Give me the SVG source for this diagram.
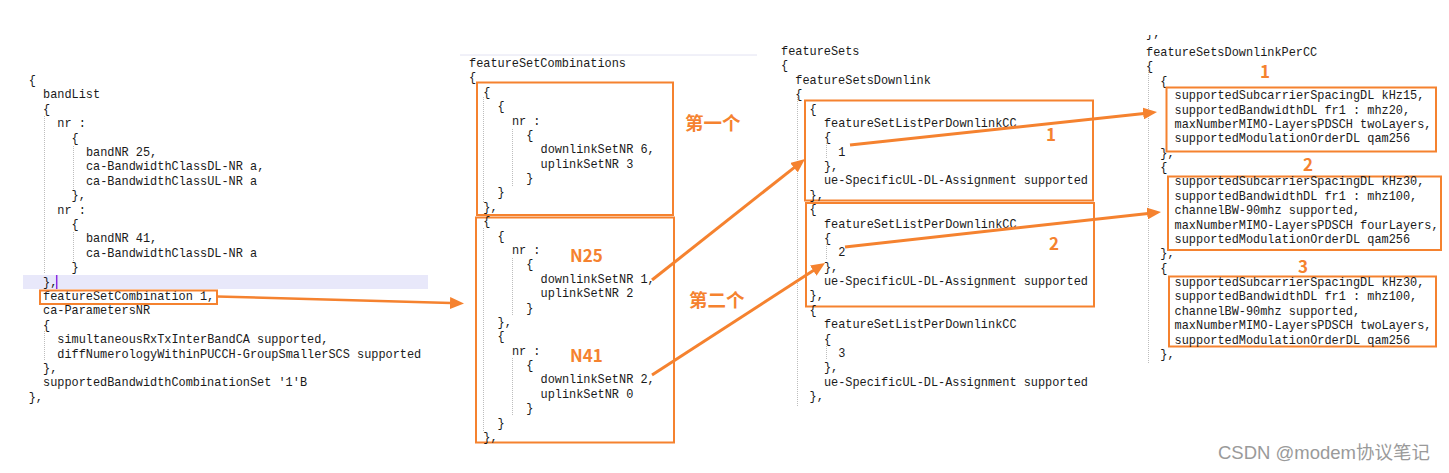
<svg xmlns="http://www.w3.org/2000/svg" width="1449" height="473" viewBox="0 0 1449 473">
<style>
.c{font-family:"Liberation Mono","Courier New",monospace;font-size:11.9px;fill:#1a1a1a;white-space:pre}
.box{fill:none;stroke:#f5822f;stroke-width:2}
.lbl{font-family:"Noto Sans CJK SC","Noto Sans",sans-serif;font-weight:bold;fill:#f5822f}
.guide{stroke:#bdbdbd;stroke-width:1;stroke-dasharray:1 1;fill:none}
.arrow{stroke:#f5822f;stroke-width:3;fill:none;marker-end:url(#ah)}
.wm{font-family:"Liberation Sans","Noto Sans CJK SC",sans-serif;font-size:18.5px;fill:#9a9a9a}
</style>
<defs>
<marker id="ah" markerUnits="userSpaceOnUse" markerWidth="14" markerHeight="12" refX="1" refY="6" orient="auto">
<path d="M0,0 L14,6 L0,12 z" fill="#f5822f"/>
</marker>
<clipPath id="topclip"><rect x="1140" y="35" width="40" height="10"/></clipPath>
</defs>
<rect width="1449" height="473" fill="#ffffff"/>

<g id="panel-bandlist">
<rect x="23" y="275" width="405" height="14" fill="#e8e8fa"/>
<line x1="56.7" y1="275" x2="56.7" y2="289" stroke="#8a2be2" stroke-width="1.5"/>
<path class="guide" d="M44.5,116V273 M73.5,146V191 M73.5,232V261 M44.5,331V361"/>
<text class="c" x="28.7" y="84">{</text>
<text class="c" x="43" y="98.4">bandList</text>
<text class="c" x="43" y="112.8">{</text>
<text class="c" x="57.3" y="127.2">nr :</text>
<text class="c" x="71.6" y="141.6">{</text>
<text class="c" x="85.9" y="156">bandNR 25,</text>
<text class="c" x="85.9" y="170.4">ca-BandwidthClassDL-NR a,</text>
<text class="c" x="85.9" y="184.8">ca-BandwidthClassUL-NR a</text>
<text class="c" x="71.6" y="199.2">},</text>
<text class="c" x="57.3" y="213.6">nr :</text>
<text class="c" x="71.6" y="228">{</text>
<text class="c" x="85.9" y="242.4">bandNR 41,</text>
<text class="c" x="85.9" y="256.8">ca-BandwidthClassDL-NR a</text>
<text class="c" x="71.6" y="271.2">}</text>
<text class="c" x="43" y="285.6">},</text>
<text class="c" x="43" y="300">featureSetCombination 1,</text>
<text class="c" x="43" y="314.4">ca-ParametersNR</text>
<text class="c" x="43" y="328.8">{</text>
<text class="c" x="57.3" y="343.2">simultaneousRxTxInterBandCA supported,</text>
<text class="c" x="57.3" y="357.6">diffNumerologyWithinPUCCH-GroupSmallerSCS supported</text>
<text class="c" x="43" y="372">},</text>
<text class="c" x="43" y="386.4">supportedBandwidthCombinationSet '1'B</text>
<text class="c" x="28.7" y="400.8">},</text>
<rect id="fsc-box" class="box" x="40" y="290.5" width="177" height="13.5"/>
</g>

<g id="panel-featureSetCombinations">
<line x1="460" y1="55" x2="757" y2="55" stroke="#e2e2f2" stroke-width="1"/>
<path class="guide" d="M483.5,97V203 M512.5,129V186 M483.5,228V432 M512.5,258V315 M512.5,358V416"/>
<text class="c" x="469" y="67">featureSetCombinations</text>
<text class="c" x="469" y="81.4">{</text>
<g id="combo-1">
<rect class="box" x="477" y="82.5" width="196" height="132.5"/>
<text class="c" x="483.3" y="95.8">{</text>
<text class="c" x="497.6" y="110.1">{</text>
<text class="c" x="511.9" y="124.5">nr :</text>
<text class="c" x="526.2" y="138.9">{</text>
<text class="c" x="540.5" y="153.3">downlinkSetNR 6,</text>
<text class="c" x="540.5" y="167.7">uplinkSetNR 3</text>
<text class="c" x="526.2" y="182.1">}</text>
<text class="c" x="497.6" y="196.4">}</text>
<text class="c" x="483.3" y="210.8">},</text>
<text class="lbl" x="685" y="130" font-size="18.5">第一个</text>
</g>
<g id="combo-2">
<rect class="box" x="476" y="217.5" width="198" height="225"/>
<text class="c" x="483.3" y="225.2">{</text>
<text class="c" x="497.6" y="239.6">{</text>
<text class="c" x="511.9" y="253.9">nr :</text>
<text class="c" x="526.2" y="268.3">{</text>
<text class="c" x="540.5" y="282.7">downlinkSetNR 1,</text>
<text class="c" x="540.5" y="297.1">uplinkSetNR 2</text>
<text class="c" x="526.2" y="311.5">}</text>
<text class="c" x="497.6" y="325.8">},</text>
<text class="c" x="497.6" y="340.2">{</text>
<text class="c" x="511.9" y="354.6">nr :</text>
<text class="c" x="526.2" y="369">{</text>
<text class="c" x="540.5" y="383.4">downlinkSetNR 2,</text>
<text class="c" x="540.5" y="397.7">uplinkSetNR 0</text>
<text class="c" x="526.2" y="412.1">}</text>
<text class="c" x="497.6" y="426.5">}</text>
<text class="c" x="483.3" y="440.9">},</text>
<text class="lbl" x="570" y="262" font-size="17" font-family="'Noto Sans',sans-serif">N25</text>
<text class="lbl" x="570" y="362" font-size="17" font-family="'Noto Sans',sans-serif">N41</text>
<text class="lbl" x="689" y="307" font-size="18.5">第二个</text>
</g>
</g>

<g id="panel-featureSets">
<path class="guide" d="M797.5,97V407 M826.5,143V158 M826.5,244V259 M826.5,344V360"/>
<text class="c" x="781" y="55">featureSets</text>
<text class="c" x="781" y="69.4">{</text>
<text class="c" x="795.3" y="83.8">featureSetsDownlink</text>
<text class="c" x="795.3" y="98.1">{</text>
<g id="fs-1">
<rect class="box" x="805" y="100.5" width="288" height="100"/>
<text class="c" x="809.6" y="112.5">{</text>
<text class="c" x="823.9" y="126.9">featureSetListPerDownlinkCC</text>
<text class="c" x="823.9" y="141.3">{</text>
<text class="c" x="838.2" y="155.6">1</text>
<text class="c" x="823.9" y="170">},</text>
<text class="c" x="823.9" y="184.4">ue-SpecificUL-DL-Assignment supported</text>
<text class="c" x="809.6" y="198.8">},</text>
<text class="lbl" x="1051" y="141" font-size="17" text-anchor="middle" font-family="'Noto Sans',sans-serif">1</text>
</g>
<g id="fs-2">
<rect class="box" x="806" y="203" width="288" height="103.5"/>
<text class="c" x="809.6" y="213.1">{</text>
<text class="c" x="823.9" y="227.5">featureSetListPerDownlinkCC</text>
<text class="c" x="823.9" y="241.9">{</text>
<text class="c" x="838.2" y="256.3">2</text>
<text class="c" x="823.9" y="270.6">},</text>
<text class="c" x="823.9" y="285">ue-SpecificUL-DL-Assignment supported</text>
<text class="c" x="809.6" y="299.4">},</text>
<text class="lbl" x="1054" y="250" font-size="17" text-anchor="middle" font-family="'Noto Sans',sans-serif">2</text>
</g>
<g id="fs-3">
<text class="c" x="809.6" y="313.8">{</text>
<text class="c" x="823.9" y="328.1">featureSetListPerDownlinkCC</text>
<text class="c" x="823.9" y="342.5">{</text>
<text class="c" x="838.2" y="356.9">3</text>
<text class="c" x="823.9" y="371.3">},</text>
<text class="c" x="823.9" y="385.6">ue-SpecificUL-DL-Assignment supported</text>
<text class="c" x="809.6" y="400">},</text>
</g>
</g>

<g id="panel-featureSetsDownlinkPerCC">
<path class="guide" d="M1148.5,70V363"/>
<text class="c" x="1146" y="37" clip-path="url(#topclip)">},</text>
<text class="c" x="1146" y="56">featureSetsDownlinkPerCC</text>
<text class="c" x="1146" y="70.4">{</text>
<g id="dlcc-1">
<text class="c" x="1160.3" y="84.8">{</text>
<rect class="box" x="1166.5" y="87.5" width="269.5" height="64"/>
<text class="c" x="1174.6" y="99.1">supportedSubcarrierSpacingDL kHz15,</text>
<text class="c" x="1174.6" y="113.5">supportedBandwidthDL fr1 : mhz20,</text>
<text class="c" x="1174.6" y="127.9">maxNumberMIMO-LayersPDSCH twoLayers,</text>
<text class="c" x="1174.6" y="142.3">supportedModulationOrderDL qam256</text>
<text class="c" x="1160.3" y="156.6">},</text>
<text class="lbl" x="1265" y="78" font-size="17" text-anchor="middle" font-family="'Noto Sans',sans-serif">1</text>
</g>
<g id="dlcc-2">
<text class="c" x="1160.3" y="171">{</text>
<rect class="box" x="1168" y="176.5" width="273" height="73.5"/>
<text class="c" x="1174.6" y="185.4">supportedSubcarrierSpacingDL kHz30,</text>
<text class="c" x="1174.6" y="199.8">supportedBandwidthDL fr1 : mhz100,</text>
<text class="c" x="1174.6" y="214.1">channelBW-90mhz supported,</text>
<text class="c" x="1174.6" y="228.5">maxNumberMIMO-LayersPDSCH fourLayers,</text>
<text class="c" x="1174.6" y="242.9">supportedModulationOrderDL qam256</text>
<text class="c" x="1160.3" y="257.3">},</text>
<text class="lbl" x="1308" y="171" font-size="17" text-anchor="middle" font-family="'Noto Sans',sans-serif">2</text>
</g>
<g id="dlcc-3">
<text class="c" x="1160.3" y="271.6">{</text>
<rect class="box" x="1169" y="276.5" width="267" height="70"/>
<text class="c" x="1174.6" y="286">supportedSubcarrierSpacingDL kHz30,</text>
<text class="c" x="1174.6" y="300.4">supportedBandwidthDL fr1 : mhz100,</text>
<text class="c" x="1174.6" y="314.8">channelBW-90mhz supported,</text>
<text class="c" x="1174.6" y="329.1">maxNumberMIMO-LayersPDSCH twoLayers,</text>
<text class="c" x="1174.6" y="343.5">supportedModulationOrderDL qam256</text>
<text class="c" x="1160.3" y="357.9">},</text>
<text class="lbl" x="1303" y="273" font-size="17" text-anchor="middle" font-family="'Noto Sans',sans-serif">3</text>
</g>
</g>

<g id="connectors">
<line class="arrow" x1="217" y1="296.5" x2="451" y2="303.1" style="stroke-width:2.5"/>
<line class="arrow" x1="652" y1="280" x2="794.8" y2="167.1"/>
<line class="arrow" x1="652" y1="375" x2="814.1" y2="270.1"/>
<line class="arrow" x1="850" y1="145" x2="1144.1" y2="113.4"/>
<line class="arrow" x1="845" y1="247" x2="1148.1" y2="213.4"/>
</g>

<text class="wm" x="1218" y="459">CSDN @modem协议笔记</text>
</svg>
